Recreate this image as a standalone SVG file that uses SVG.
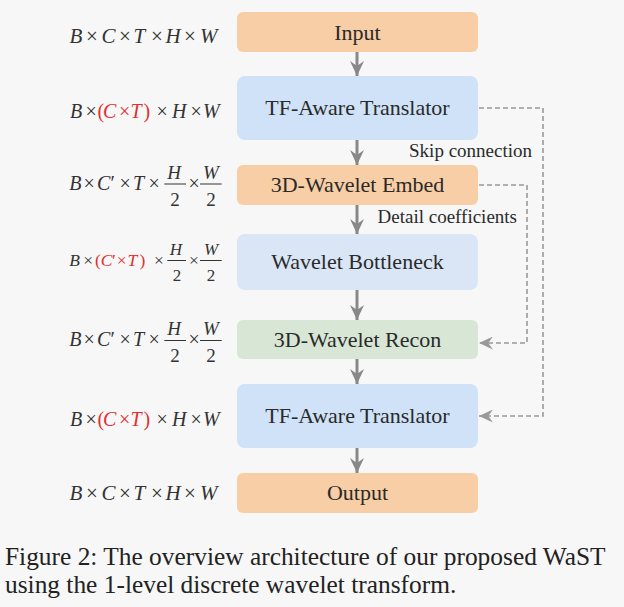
<svg xmlns="http://www.w3.org/2000/svg" width="624" height="607" viewBox="0 0 624 607">
<defs>
  <marker id="ah" viewBox="0 0 16 14" refX="15" refY="7" markerWidth="16" markerHeight="14" markerUnits="userSpaceOnUse" orient="auto">
    <path d="M0,0 L15,7 L0,14 L5,7 Z" fill="#888"/>
  </marker>
  <marker id="ahd" viewBox="0 0 16 14" refX="15" refY="7" markerWidth="15" markerHeight="13" markerUnits="userSpaceOnUse" orient="auto">
    <path d="M0,0 L15,7 L0,14 L5,7 Z" fill="#999"/>
  </marker>
</defs>
<rect x="0" y="0" width="624" height="607" fill="#f7f7f7"/>

<g id="connectors">
  <g stroke="#888" stroke-width="3" fill="none" marker-end="url(#ah)">
    <line x1="357" y1="52" x2="357" y2="76"/>
    <line x1="357" y1="140" x2="357" y2="165"/>
    <line x1="357" y1="205" x2="357" y2="234"/>
    <line x1="357" y1="290" x2="357" y2="320"/>
    <line x1="357" y1="359" x2="357" y2="384"/>
    <line x1="357" y1="448" x2="357" y2="473"/>
  </g>
  <g stroke="#999" stroke-width="1.6" fill="none" stroke-dasharray="5 3" marker-end="url(#ahd)">
    <polyline points="479,108 543,108 543,416 479,416"/>
    <polyline points="479,185 527,185 527,343 479,343"/>
  </g>
  <g font-family="Liberation Serif" font-size="19" fill="#2a2a2a" text-anchor="end">
    <text x="532" y="156.5">Skip connection</text>
    <text x="517" y="222.5">Detail coefficients</text>
  </g>
</g>

<g font-family="Liberation Serif" font-size="22" fill="#2a2a2a" text-anchor="middle">
<g id="input">
  <rect fill="#f8cea6" x="237" y="12" width="241" height="40" rx="6"/>
  <text x="357.5" y="39.5">Input</text>
</g>
<g id="tf1">
  <rect fill="#cfe2f7" x="237" y="76" width="241" height="64" rx="8"/>
  <text x="357.5" y="115">TF-Aware Translator</text>
</g>
<g id="embed">
  <rect fill="#f8cea6" x="237" y="165" width="241" height="40" rx="6"/>
  <text x="357.5" y="192">3D-Wavelet Embed</text>
</g>
<g id="bottleneck">
  <rect fill="#dae6f6" x="237" y="234" width="241" height="56" rx="8"/>
  <text x="357.5" y="269">Wavelet Bottleneck</text>
</g>
<g id="recon">
  <rect fill="#d8e6d6" x="237" y="320" width="241" height="39" rx="6"/>
  <text x="357.5" y="347">3D-Wavelet Recon</text>
</g>
<g id="tf2">
  <rect fill="#cfe2f7" x="237" y="384" width="241" height="64" rx="8"/>
  <text x="357.5" y="423">TF-Aware Translator</text>
</g>
<g id="output">
  <rect fill="#f8cea6" x="237" y="473" width="241" height="40" rx="6"/>
  <text x="357.5" y="500">Output</text>
</g>
</g>

<g id="labels" font-family="Liberation Serif" fill="#333">
  <text y="43" font-size="21"><tspan font-style="italic" x="69.6">B</tspan><tspan x="86">×</tspan><tspan font-style="italic" x="101.5">C</tspan><tspan x="119">×</tspan><tspan font-style="italic" x="133.5">T</tspan><tspan x="151">×</tspan><tspan font-style="italic" x="165.5">H</tspan><tspan x="184">×</tspan><tspan font-style="italic" x="200">W</tspan></text>
  <text y="117.5" font-size="20"><tspan font-style="italic" x="70">B</tspan><tspan x="85.5">×</tspan><tspan fill="#e0302f" x="97.5">(</tspan><tspan font-style="italic" fill="#e0302f" x="103">C</tspan><tspan fill="#e0302f" x="119">×</tspan><tspan font-style="italic" fill="#e0302f" x="130.5">T</tspan><tspan fill="#e0302f" x="143.5">)</tspan><tspan x="156.5">×</tspan><tspan font-style="italic" x="172">H</tspan><tspan x="190.5">×</tspan><tspan font-style="italic" x="203">W</tspan></text>
  <g>
    <text y="190" font-size="20"><tspan font-style="italic" x="69.3">B</tspan><tspan x="83.5">×</tspan><tspan font-style="italic" x="97">C</tspan><tspan x="110.5">′</tspan><tspan x="119.5">×</tspan><tspan font-style="italic" x="133">T</tspan><tspan x="148.5">×</tspan><tspan x="188.5">×</tspan></text>
    <g font-size="19" text-anchor="middle">
      <text font-style="italic" x="174" y="178.5">H</text>
      <text x="175" y="206">2</text>
      <text font-style="italic" x="211" y="178.5">W</text>
      <text x="211" y="206">2</text>
    </g>
    <g stroke="#333" stroke-width="1">
      <line x1="164.3" y1="184" x2="186" y2="184"/>
      <line x1="200" y1="184" x2="221.7" y2="184"/>
    </g>
  </g>
  <g>
    <text y="266" font-size="17.5"><tspan font-style="italic" x="69.3">B</tspan><tspan x="83.3">×</tspan><tspan fill="#e0302f" x="95">(</tspan><tspan font-style="italic" fill="#e0302f" x="100.7">C</tspan><tspan fill="#e0302f" x="112">′</tspan><tspan fill="#e0302f" x="116.7">×</tspan><tspan font-style="italic" fill="#e0302f" x="127.5">T</tspan><tspan fill="#e0302f" x="139.5">)</tspan><tspan x="154">×</tspan><tspan x="189">×</tspan></text>
    <g font-size="17" text-anchor="middle">
      <text font-style="italic" x="176" y="255">H</text>
      <text x="177" y="281">2</text>
      <text font-style="italic" x="211" y="255">W</text>
      <text x="211" y="281">2</text>
    </g>
    <g stroke="#333" stroke-width="1">
      <line x1="167.3" y1="260.5" x2="186" y2="260.5"/>
      <line x1="200" y1="260.5" x2="221.7" y2="260.5"/>
    </g>
  </g>
  <g>
    <text y="346" font-size="20"><tspan font-style="italic" x="69.3">B</tspan><tspan x="83.5">×</tspan><tspan font-style="italic" x="97">C</tspan><tspan x="110.5">′</tspan><tspan x="119.5">×</tspan><tspan font-style="italic" x="133">T</tspan><tspan x="148.5">×</tspan><tspan x="188.5">×</tspan></text>
    <g font-size="19" text-anchor="middle">
      <text font-style="italic" x="174" y="334.5">H</text>
      <text x="175" y="362">2</text>
      <text font-style="italic" x="211" y="334.5">W</text>
      <text x="211" y="362">2</text>
    </g>
    <g stroke="#333" stroke-width="1">
      <line x1="164.3" y1="340.5" x2="186" y2="340.5"/>
      <line x1="200" y1="340.5" x2="221.7" y2="340.5"/>
    </g>
  </g>
  <text y="425.5" font-size="20"><tspan font-style="italic" x="70">B</tspan><tspan x="85.5">×</tspan><tspan fill="#e0302f" x="97.5">(</tspan><tspan font-style="italic" fill="#e0302f" x="103">C</tspan><tspan fill="#e0302f" x="119">×</tspan><tspan font-style="italic" fill="#e0302f" x="130.5">T</tspan><tspan fill="#e0302f" x="143.5">)</tspan><tspan x="156.5">×</tspan><tspan font-style="italic" x="172">H</tspan><tspan x="190.5">×</tspan><tspan font-style="italic" x="203">W</tspan></text>
  <text y="500" font-size="21"><tspan font-style="italic" x="69.6">B</tspan><tspan x="86">×</tspan><tspan font-style="italic" x="101.5">C</tspan><tspan x="119">×</tspan><tspan font-style="italic" x="133.5">T</tspan><tspan x="151">×</tspan><tspan font-style="italic" x="165.5">H</tspan><tspan x="184">×</tspan><tspan font-style="italic" x="200">W</tspan></text>
</g>

<g id="caption" font-family="Liberation Serif" font-size="25.4" fill="#222">
  <text x="5" y="565">Figure 2: The overview architecture of our proposed WaST</text>
  <text x="5" y="593">using the 1-level discrete wavelet transform.</text>
</g>
</svg>
